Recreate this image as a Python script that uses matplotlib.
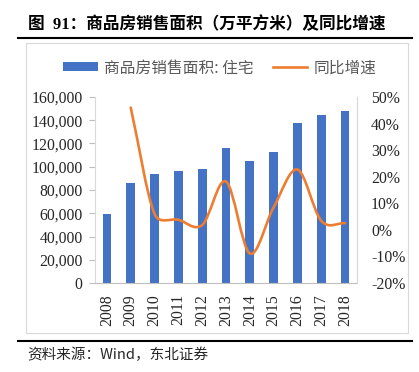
import matplotlib
matplotlib.use("Agg")
import matplotlib.pyplot as plt
import numpy as np
from matplotlib.path import Path
from matplotlib.patches import PathPatch, Rectangle
from matplotlib.lines import Line2D
from matplotlib.patches import Patch

years = ["2008", "2009", "2010", "2011", "2012", "2013", "2014", "2015", "2016", "2017", "2018"]
area = [59280, 86185, 93377, 96528, 98468, 115723, 105188, 112406, 137540, 144789, 147929]
growth_years = ["2009", "2010", "2011", "2012", "2013", "2014", "2015", "2016", "2017", "2018"]
growth = [46.0, 6.0, 3.8, 1.8, 18.2, -8.9, 8.5, 22.7, 3.4, 2.5]

left_ticks = [0, 20000, 40000, 60000, 80000, 100000, 120000, 140000, 160000]
right_ticks = [-20, -10, 0, 10, 20, 30, 40, 50]

title = "图  91：商品房销售面积（万平方米）及同比增速"
legend_bar = "商品房销售面积: 住宅"
legend_line = "同比增速"
source = "资料来源：Wind，东北证券"

BLUE = "#4472C4"
ORANGE = "#ED7D31"
TXT = "#262626"
serif_cjk = ["Liberation Serif", "Noto Sans CJK SC"]
cjk = ["Noto Sans CJK SC", "Liberation Serif"]

W, H = 419, 372
fig = plt.figure(figsize=(W / 100, H / 100), dpi=100)

def fx(px):
    return px / W

def fy(py):
    return 1 - py / H

# frame of chart
fig.patches.append(Rectangle((fx(26), fy(333)), fx(408) - fx(26), fy(43) - fy(333),
                             transform=fig.transFigure, fill=False, edgecolor="#D9D9D9", lw=0.8))
# title and rules
fig.text(fx(28), fy(25), title, fontsize=12, fontweight="bold", family=serif_cjk,
         ha="left", va="center", color="black")
fig.add_artist(Line2D([fx(18), fx(412)], [fy(38), fy(38)], color="black", lw=1.5,
                      transform=fig.transFigure))
fig.add_artist(Line2D([fx(18), fx(412)], [fy(341), fy(341)], color="black", lw=1.5,
                      transform=fig.transFigure))
fig.text(fx(27), fy(355), source, fontsize=10.5, family=cjk, ha="left", va="center", color=TXT)

ax = fig.add_axes([fx(95), fy(283), fx(357) - fx(95), fy(97) - fy(283)])
x = np.arange(len(years))
ax.bar(x, area, width=0.37, color=BLUE, zorder=2)
ax.set_xlim(-0.5, len(years) - 0.5)
ax.set_ylim(0, 160000)
ax.set_yticks(left_ticks)
ax.set_yticklabels([f"{v:,}" for v in left_ticks], family="Liberation Serif", fontsize=11.3, color=TXT)
ax.set_xticks(x)
ax.set_xticklabels(years, rotation=90, family="Liberation Serif", fontsize=11.3, color=TXT)
ax.tick_params(axis="x", length=0, pad=8)
ax.tick_params(axis="y", length=4, color="#BFBFBF", pad=5)
ax.spines["top"].set_visible(False)
for s in ("left", "right"):
    ax.spines[s].set_color("#D9D9D9")
ax.spines["bottom"].set_color("#BFBFBF")

ax2 = ax.twinx()
ax2.set_ylim(-20, 50)
ax2.set_yticks(right_ticks)
ax2.set_yticklabels([f"{v}%" for v in right_ticks], family="Liberation Serif", fontsize=11.3, color=TXT)
ax2.tick_params(axis="y", length=0, pad=10)
ax2.spines["top"].set_visible(False)
ax2.spines["right"].set_color("#D9D9D9")
ax2.spines["left"].set_visible(False)
ax2.spines["bottom"].set_visible(False)

# smoothed line (Excel-style Bezier, computed in display space) through growth points
gx = np.array([years.index(y) for y in growth_years], dtype=float)
gy = np.array(growth, dtype=float)
T = ax2.transData
pts = T.transform(np.column_stack([gx, gy]))
n = len(pts)


def leg(a, b, seg, f=1 / 6):
    v = (b - a) * f
    L = np.hypot(*v)
    lim = seg / 2
    if L > lim and L > 0:
        v = v * lim / L
    return v


verts = [pts[0]]
codes = [Path.MOVETO]
for i in range(n - 1):
    p1 = pts[i]
    p2 = pts[i + 1]
    seg = np.hypot(*(p2 - p1))
    if i > 0:
        c1 = p1 + leg(pts[i - 1], p2, seg)
    else:
        c1 = p1 + (p2 - p1) / 3
    if i + 2 < n:
        c2 = p2 - leg(p1, pts[i + 2], seg)
    else:
        c2 = p2 - (p2 - p1) / 3
    verts += [c1, c2, p2]
    codes += [Path.CURVE4] * 3
verts = T.inverted().transform(np.array(verts))
ax2.add_patch(PathPatch(Path(verts, codes), facecolor="none", edgecolor=ORANGE, lw=1.9,
                        capstyle="round", joinstyle="round", zorder=3))

# legend
handles = [Patch(facecolor=BLUE, edgecolor="none"), Line2D([0], [0], color=ORANGE, lw=1.9)]
lg = fig.legend(handles, [legend_bar, legend_line], loc="center",
                bbox_to_anchor=(fx(220), fy(68)), ncol=2, frameon=False,
                prop={"family": cjk, "size": 11.3}, handlelength=2.2, handleheight=0.5,
                columnspacing=1.2, handletextpad=0.4)
for t in lg.get_texts():
    t.set_color("#595959")

fig.savefig("out.png", dpi=100)
